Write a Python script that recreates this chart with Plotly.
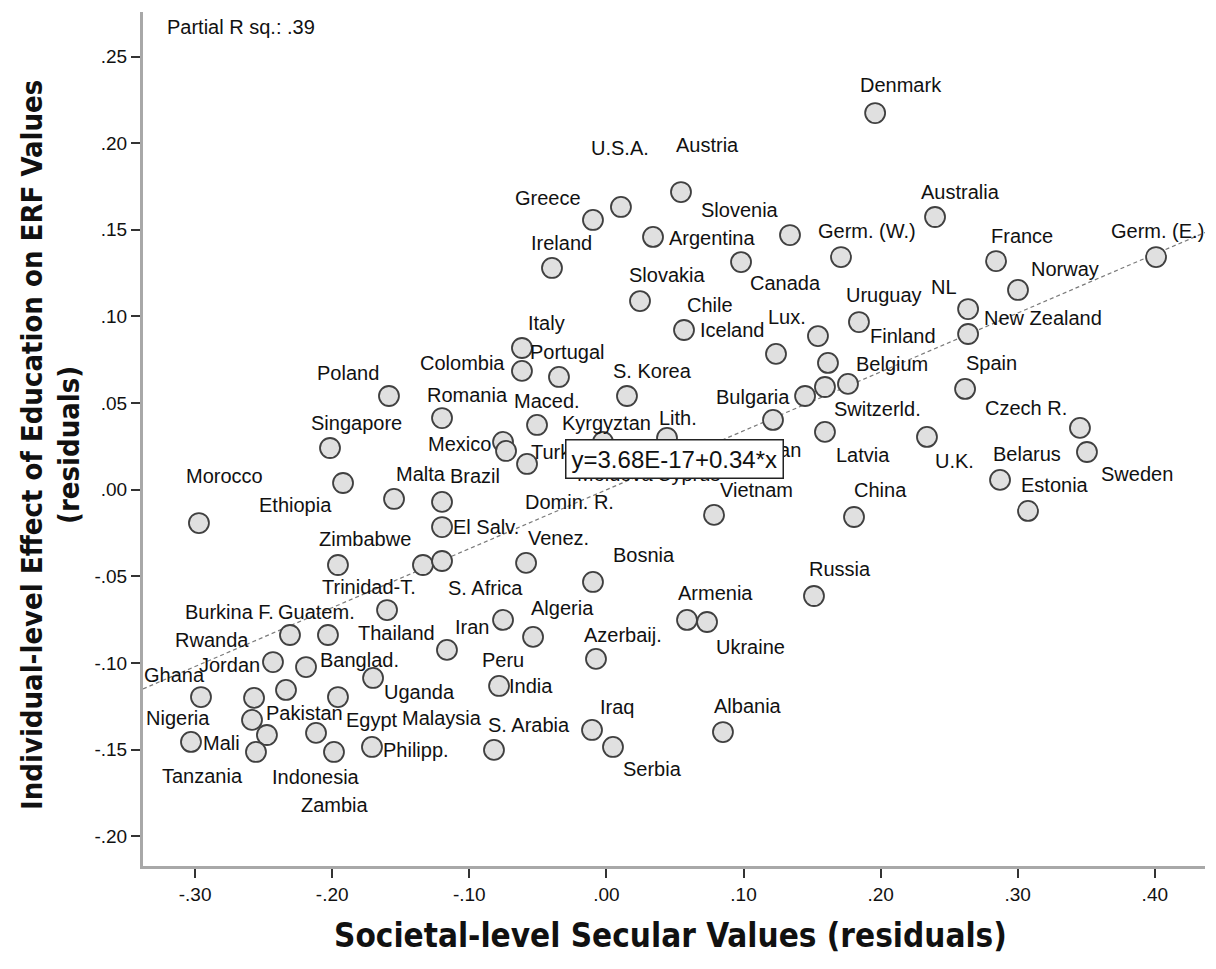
import plotly.graph_objects as go

# ---------------- data ----------------
countries = [
    "Denmark", "Austria", "U.S.A.", "Greece", "Argentina", "Slovenia", "Ireland", "Canada",
    "Slovakia", "Chile", "Iceland", "Germ. (W.)", "Australia", "France", "Norway", "Germ. (E.)",
    "NL", "New Zealand", "Uruguay", "Lux.", "Finland", "Belgium", "Spain", "Switzerld.",
    "Bulgaria", "Taiwan", "Latvia", "U.K.", "Czech R.", "Sweden", "Belarus", "Estonia",
    "China", "Vietnam", "Russia", "Armenia", "Ukraine", "Albania", "Italy", "Colombia",
    "Portugal", "S. Korea", "Maced.", "Kyrgyztan", "Lith.", "Mexico", "Turkey", "Domin. R.",
    "Moldova", "Cyprus", "Venez.", "Bosnia", "Iran", "Algeria", "Azerbaij.", "India",
    "S. Arabia", "Iraq", "Serbia", "Poland", "Romania", "Singapore", "Morocco", "Ethiopia",
    "Malta", "Brazil", "El Salv.", "Zimbabwe", "Trinidad-T.", "S. Africa", "Ghana", "Nigeria",
    "Pakistan", "Indonesia", "Mali", "Tanzania", "Egypt", "Zambia", "Philipp.", "Jordan",
    "Banglad.", "Uganda", "Malaysia", "Rwanda", "Burkina F.", "Guatem.", "Thailand", "Peru",
]

secular_resid = [
    0.196, 0.0544, 0.0106, -0.0098, 0.034, 0.1339, -0.0397, 0.0982,
    0.0245, 0.0566, 0.1237, 0.1711, 0.2397, 0.2842, 0.3002, 0.4009,
    0.2638, 0.2638, 0.1842, 0.1543, 0.1616, 0.1762, 0.2616, 0.1594,
    0.1449, 0.1215, 0.1594, 0.2338, 0.3454, 0.3505, 0.2871, 0.3075,
    0.1806, 0.0785, 0.1514, 0.0588, 0.0734, 0.085, -0.0616, -0.0616,
    -0.0346, 0.015, -0.0506, -0.0025, 0.0442, -0.0754, -0.0732, -0.0579,
    0.0026, 0.0537, -0.0586, -0.0098, -0.0754, -0.0535, -0.0076, -0.0783,
    -0.082, -0.0105, 0.0048, -0.1586, -0.1199, -0.2016, -0.2972, -0.1921,
    -0.1549, -0.1199, -0.1199, -0.1958, -0.1338, -0.1199, -0.2957, -0.257,
    -0.2585, -0.2476, -0.303, -0.2556, -0.2118, -0.1987, -0.171, -0.2432,
    -0.2191, -0.1702, -0.1958, -0.2337, -0.2308, -0.2031, -0.16, -0.1163,
]

erf_effect_resid = [
    0.2174, 0.1718, 0.1632, 0.1557, 0.1459, 0.147, 0.128, 0.1314,
    0.1089, 0.0922, 0.0784, 0.1343, 0.1574, 0.132, 0.1153, 0.1343,
    0.1043, 0.0899, 0.0968, 0.0887, 0.0732, 0.0611, 0.0582, 0.0593,
    0.0541, 0.0403, 0.0334, 0.0305, 0.0357, 0.0218, 0.0057, -0.0122,
    -0.0157, -0.0145, -0.0613, -0.0751, -0.0763, -0.1398, 0.0818, 0.0686,
    0.0651, 0.0541, 0.0374, 0.0276, 0.0299, 0.0276, 0.0224, 0.0149,
    0.016, 0.0172, -0.0422, -0.0532, -0.0751, -0.0849, -0.0976, -0.1132,
    -0.1501, -0.1386, -0.1484, 0.0541, 0.0414, 0.0241, -0.0192, 0.0039,
    -0.0053, -0.007, -0.0215, -0.0434, -0.0434, -0.0411, -0.1196, -0.1201,
    -0.1328, -0.1415, -0.1455, -0.1513, -0.1403, -0.1513, -0.1484, -0.0994,
    -0.1023, -0.1086, -0.1196, -0.1155, -0.0838, -0.0838, -0.0694, -0.0924,
]

x_tickvals = [-0.30, -0.20, -0.10, 0.00, 0.10, 0.20, 0.30, 0.40]
x_ticktext = ["-.30", "-.20", "-.10", ".00", ".10", ".20", ".30", ".40"]
y_tickvals = [-0.20, -0.15, -0.10, -0.05, 0.00, 0.05, 0.10, 0.15, 0.20, 0.25]
y_ticktext = ["-.20", "-.15", "-.10", "-.05", ".00", ".05", ".10", ".15", ".20", ".25"]

fit_intercept = 3.68e-17
fit_slope = 0.34
fit_label = "y=3.68E-17+0.34*x"
partial_r_sq = "Partial R sq.: .39"

x_title = "Societal-level Secular Values (residuals)"
y_title_1 = "Individual-level Effect of Education on ERF Values"
y_title_2 = "(residuals)"

# ---------------- styling (label offsets in px: dx right, dy down) ----------------
label_dx = [
    26, 27, -1, -45, 59, -50, 10, 44,
    27, 26, -44, 26, 25, 26, 47, 1,
    -24, 75, 25, -31, 75, 44, 26, 53,
    -52, -3, 38, 28, -54, 50, 27, 27,
    26, 42, 26, 28, 43, 25, 25, -59,
    9, 26, 10, 4, 11, -44, 55, 42,
    5, 8, 32, 51, -31, 29, 27, 32,
    35, 25, 40, -41, 25, 26, 26, -48,
    27, 33, 44, 27, -54, 43, -26, -76,
    52, 49, 31, -53, 56, 1, 44, -43,
    53, 46, 104, -74, -60, -11, 9, 56,
]
label_dy = [
    -28, -47, -59, -22, 1, -25, -25, 21,
    -26, -25, -24, -26, -25, -25, -21, -26,
    -22, -16, -27, -19, -27, -20, -26, 22,
    1, 30, 23, 24, -20, 22, -26, -26,
    -27, -25, -27, -27, 25, -26, -25, -8,
    -25, -25, -24, -19, -20, 2, 1, 38,
    12, 14, -25, -27, 7, -29, -24, 0,
    -25, -23, 22, -23, -23, -25, -47, 22,
    -25, -26, 0, -26, 22, 27, -22, 20,
    -7, 42, 1, 24, -13, 53, 3, 3,
    -7, 14, 21, -50, -23, -23, 23, 10,
]

x_range = [-0.338, 0.4366]
y_range = [-0.2171, 0.2757]

label_font = dict(family="Liberation Sans, Arial, sans-serif", size=20, color="#111111")
x_title_font = dict(family="Liberation Sans Narrow, Arial Narrow, DejaVu Sans Condensed, sans-serif",
                    size=33, color="#111111", weight="bold")
y_title_font = dict(family="Liberation Sans Narrow, Arial Narrow, DejaVu Sans Condensed, sans-serif",
                    size=29, color="#111111", weight="bold")

fig = go.Figure()

# regression line
fig.add_trace(go.Scatter(
    x=x_range,
    y=[fit_intercept + fit_slope * v for v in x_range],
    mode="lines",
    line=dict(color="#7a7a7a", width=1.2, dash="4px,3px"),
    hoverinfo="skip",
    showlegend=False,
))

# points
fig.add_trace(go.Scatter(
    x=secular_resid,
    y=erf_effect_resid,
    mode="markers",
    marker=dict(size=20, color="#e0e0e0", line=dict(color="#404040", width=1.8)),
    text=countries,
    showlegend=False,
))

annotations = []
for name, xv, yv, dx, dy in zip(countries, secular_resid, erf_effect_resid, label_dx, label_dy):
    annotations.append(dict(
        x=xv, y=yv, xref="x", yref="y", text=name, showarrow=False,
        xshift=dx, yshift=-dy, xanchor="center", yanchor="middle",
        font=label_font,
    ))

# regression equation box (drawn last so it covers what lies beneath)
annotations.append(dict(
    x=0.0497, y=0.0178, xref="x", yref="y", text=fit_label, showarrow=False,
    xanchor="center", yanchor="middle",
    font=dict(family="Liberation Sans, Arial, sans-serif", size=24, color="#111111"),
    bgcolor="white", bordercolor="#222222", borderwidth=1.5, borderpad=5,
))

annotations.append(dict(
    x=0, y=1, xref="paper", yref="paper", text=partial_r_sq, showarrow=False,
    xanchor="left", yanchor="middle", xshift=22, yshift=-15,
    font=dict(family="Liberation Sans, Arial, sans-serif", size=20, color="#111111"),
))

annotations.append(dict(
    x=0.5, y=0, xref="paper", yref="paper", text=x_title, showarrow=False,
    xanchor="center", yanchor="middle", xshift=-4, yshift=-69, font=x_title_font,
))
annotations.append(dict(
    x=0, y=0.5, xref="paper", yref="paper", text=y_title_1, showarrow=False,
    xanchor="center", yanchor="middle", xshift=-111, yshift=-6, textangle=-90, font=y_title_font,
))
annotations.append(dict(
    x=0, y=0.5, xref="paper", yref="paper", text=y_title_2, showarrow=False,
    xanchor="center", yanchor="middle", xshift=-74, yshift=-6, textangle=-90, font=y_title_font,
))

axis_common = dict(
    showgrid=False, zeroline=False, showline=True, linecolor="#a8a8a8", linewidth=3,
    ticks="outside", ticklen=9, tickwidth=1.5, tickcolor="#333333",
    tickfont=dict(family="Liberation Sans, Arial, sans-serif", size=19, color="#111111"),
)

# the page body adds an 8px margin; the figure is sized so that it fills the window
fig.update_layout(
    width=1208, height=961,
    margin=dict(l=135, r=11, t=4, b=103),
    paper_bgcolor="white", plot_bgcolor="white",
    xaxis=dict(range=x_range, tickvals=x_tickvals, ticktext=x_ticktext, **axis_common),
    yaxis=dict(range=y_range, tickvals=y_tickvals, ticktext=y_ticktext, **axis_common),
    annotations=annotations,
    showlegend=False,
)

fig.write_html("out.html")
